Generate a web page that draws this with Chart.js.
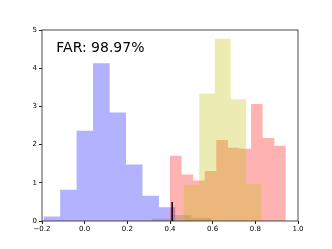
<!DOCTYPE html>
<html>
<head>
<meta charset="utf-8">
<script src="https://cdn.jsdelivr.net/npm/chart.js@4.4.1/dist/chart.umd.min.js"></script>
<style>
  html, body { margin: 0; padding: 0; background: #fff; }
  #wrap { width: 332px; height: 249px; }
</style>
</head>
<body>
<div id="wrap"><canvas id="chart"></canvas></div>
<script>
// axis ticks
const xTicks = [-0.2, 0.0, 0.2, 0.4, 0.6, 0.8, 1.0];
const yTicks = [0, 1, 2, 3, 4, 5];

// histogram bin edges and heights
const blueEdges = [-0.193, -0.115, -0.038, 0.039, 0.117, 0.194, 0.271, 0.348, 0.426];
const blueHeights = [0.12, 0.82, 2.36, 4.13, 2.84, 1.48, 0.66, 0.36];

const redEdges = [0.400, 0.454, 0.509, 0.563, 0.617, 0.672, 0.726, 0.780, 0.834, 0.889, 0.943];
const redHeights = [1.71, 1.22, 1.06, 1.31, 2.12, 1.92, 1.89, 3.06, 2.17, 1.97];

const yellowEdges = [0.463, 0.537, 0.610, 0.684, 0.757, 0.830];
const yellowHeights = [0.95, 3.34, 4.77, 3.19, 0.97];

const lowEdges = [0.313, 0.407, 0.500, 0.594];
const lowHeights = [0.06, 0.16, 0.08];

// threshold marker
const thresholdX = [0.41, 0.41];
const thresholdY = [0, 0.5];

const farLabel = "FAR: 98.97%";

// turn edges + heights into a stepped outline
function histPoints(edges, heights) {
  const pts = [{ x: edges[0], y: 0 }];
  heights.forEach((h, i) => pts.push({ x: edges[i], y: h }));
  pts.push({ x: edges[edges.length - 1], y: 0 });
  return pts;
}

function histDataset(edges, heights, color, order) {
  return {
    data: histPoints(edges, heights),
    stepped: true,
    fill: "origin",
    backgroundColor: color,
    borderWidth: 0,
    borderColor: "rgba(0,0,0,0)",
    pointRadius: 0,
    order: order,
  };
}

const frameAndText = {
  id: "frameAndText",
  afterDatasetsDraw(chart) {
    const { ctx, chartArea, scales } = chart;
    ctx.save();
    ctx.font = "14px 'DejaVu Sans'";
    ctx.fillStyle = "#000";
    ctx.textBaseline = "alphabetic";
    ctx.fillText(farLabel, scales.x.getPixelForValue(-0.133), scales.y.getPixelForValue(4.43));
    ctx.strokeStyle = "#222";
    ctx.lineWidth = 0.8;
    ctx.strokeRect(chartArea.left, chartArea.top, chartArea.right - chartArea.left, chartArea.bottom - chartArea.top);
    ctx.restore();
  },
};

Chart.defaults.font.family = "'DejaVu Sans'";
Chart.defaults.font.size = 7;
Chart.defaults.color = "#000";

new Chart(document.getElementById("chart").getContext("2d"), {
  type: "line",
  data: {
    datasets: [
      {
        data: thresholdX.map((x, i) => ({ x: x, y: thresholdY[i] })),
        borderColor: "#000",
        borderWidth: 1.5,
        pointRadius: 0,
        fill: false,
        order: 0,
      },
      histDataset(lowEdges, lowHeights, "rgba(140,130,60,0.3)", 1),
      histDataset(yellowEdges, yellowHeights, "rgba(191,191,0,0.3)", 2),
      histDataset(redEdges, redHeights, "rgba(255,0,0,0.3)", 3),
      histDataset(blueEdges, blueHeights, "rgba(0,0,255,0.3)", 4),
    ],
  },
  options: {
    responsive: true,
    maintainAspectRatio: false,
    animation: false,
    layout: { padding: { top: 30, right: 34, left: 0, bottom: 0 } },
    plugins: {
      legend: { display: false },
      tooltip: { enabled: false },
    },
    scales: {
      x: {
        type: "linear",
        min: -0.2,
        max: 1.0,
        afterBuildTicks: (scale) => {
          scale.ticks = xTicks.map((v) => ({ value: v }));
        },
        afterFit: (scale) => {
          scale.height = 28;
        },
        ticks: {
          padding: 1,
          maxRotation: 0,
          autoSkip: false,
          callback: (v) => v.toFixed(1).replace("-", "\u2212"),
        },
        grid: { drawOnChartArea: false, drawTicks: true, tickLength: 3, color: "#222" },
        border: { display: false },
      },
      y: {
        min: 0,
        max: 5,
        afterBuildTicks: (scale) => {
          scale.ticks = yTicks.map((v) => ({ value: v }));
        },
        afterFit: (scale) => {
          scale.width = 42;
        },
        ticks: {
          padding: 2,
          autoSkip: false,
          callback: (v) => String(v),
        },
        grid: { drawOnChartArea: false, drawTicks: true, tickLength: 3, color: "#222" },
        border: { display: false },
      },
    },
  },
  plugins: [frameAndText],
});
</script>
</body>
</html>
